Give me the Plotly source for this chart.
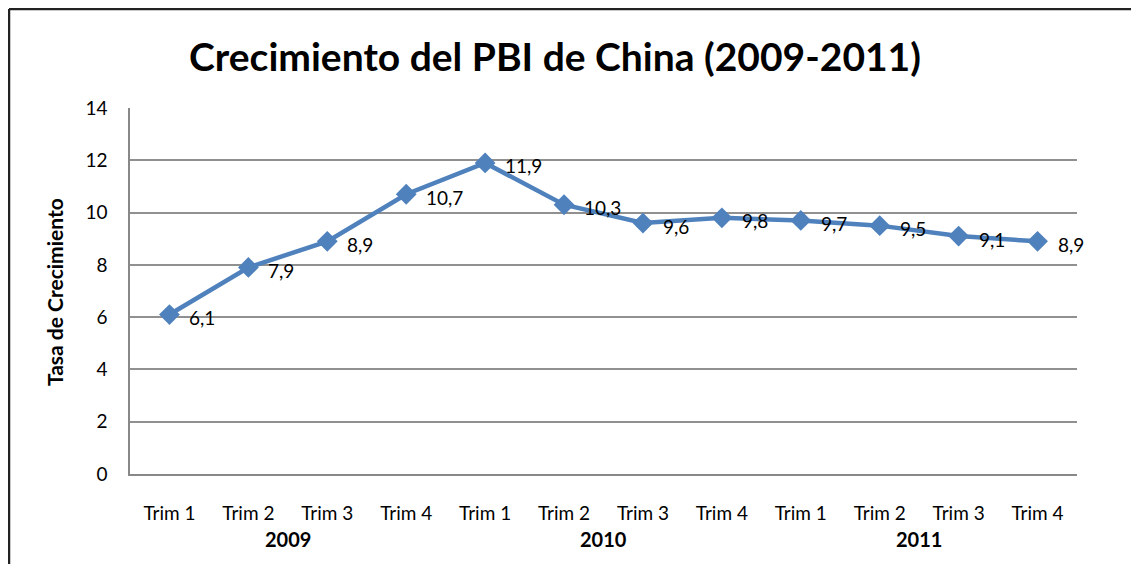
import plotly.graph_objects as go

categories = ["Trim 1", "Trim 2", "Trim 3", "Trim 4",
              "Trim 1", "Trim 2", "Trim 3", "Trim 4",
              "Trim 1", "Trim 2", "Trim 3", "Trim 4"]
years = ["2009", "2010", "2011"]
values = [6.1, 7.9, 8.9, 10.7, 11.9, 10.3, 9.6, 9.8, 9.7, 9.5, 9.1, 8.9]
labels = ["6,1", "7,9", "8,9", "10,7", "11,9", "10,3", "9,6", "9,8", "9,7", "9,5", "9,1", "8,9"]

xs = list(range(len(values)))
FONT = "Lato"
OFF = 8  # page body margin of the browser

fig = go.Figure()
fig.add_trace(go.Scatter(
    x=xs, y=values, mode="lines+markers",
    line=dict(color="#4F81BD", width=4.5),
    marker=dict(symbol="diamond", size=16, color="#4F81BD"),
    hoverinfo="skip", showlegend=False,
))

annotations = []
for i, (v, t) in enumerate(zip(values, labels)):
    annotations.append(dict(x=i, y=v, xref="x", yref="y", text=t, showarrow=False,
                            xanchor="left", yanchor="middle", xshift=18, yshift=-3,
                            font=dict(family=FONT, size=19, color="#000")))
for j, yr in enumerate(years):
    annotations.append(dict(x=j * 4 + 1.5, y=0, xref="x", yref="paper", text="<b>%s</b>" % yr,
                            showarrow=False, xanchor="center", yanchor="middle", yshift=-65,
                            font=dict(family=FONT, size=20, color="#000")))
annotations.append(dict(x=(54 - 130) / 947, y=0.497, xref="paper", yref="paper",
                        text="<b>Tasa de Crecimiento</b>", textangle=-90, showarrow=False,
                        xanchor="center", yanchor="middle",
                        font=dict(family=FONT, size=21, color="#000")))

fig.update_layout(
    width=1139, height=564,
    margin=dict(l=130 - OFF, r=62 + OFF, t=108 - OFF, b=90 + OFF),
    paper_bgcolor="white", plot_bgcolor="white",
    title=dict(text="<b>Crecimiento del PBI de China (2009-2011)</b>",
               x=(555 - OFF) / 1139, xanchor="center", y=1 - (57 - OFF) / 564, yanchor="middle",
               font=dict(family=FONT, size=39, color="#000")),
    xaxis=dict(range=[-0.5, 11.5], tickmode="array", tickvals=xs, ticktext=categories,
               showgrid=False, showline=True, linecolor="#888", linewidth=1.5,
               ticks="", ticklabelstandoff=21,
               tickfont=dict(family=FONT, size=19, color="#000"), zeroline=False),
    yaxis=dict(range=[0, 14], dtick=2, showgrid=True, gridcolor="#909090", gridwidth=1.5,
               showline=True, linecolor="#888", linewidth=1.5, ticks="", zeroline=False,
               ticklabelstandoff=17,
               tickfont=dict(family=FONT, size=19, color="#000")),
    annotations=annotations,
    shapes=[
        dict(type="line", xref="paper", yref="paper",
             x0=(9 - 130) / 947, x1=(1145 - 130) / 947,
             y0=(474 - 9) / 366, y1=(474 - 9) / 366,
             line=dict(color="#222", width=2.5)),
        dict(type="line", xref="paper", yref="paper",
             x0=(9 - 130) / 947, x1=(9 - 130) / 947,
             y0=(474 - 9) / 366, y1=(474 - 580) / 366,
             line=dict(color="#222", width=2.5)),
    ],
)

fig.write_html("out.html")
